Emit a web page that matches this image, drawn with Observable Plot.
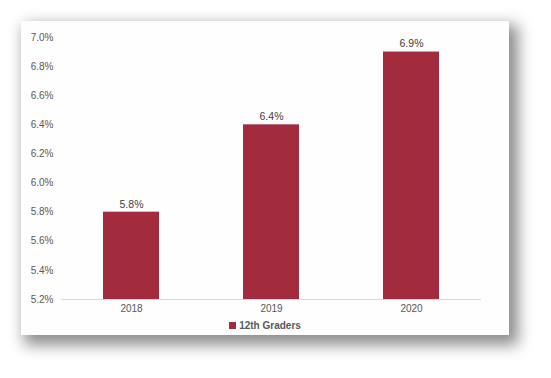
<!DOCTYPE html>
<html>
<head>
<meta charset="utf-8">
<script src="https://cdn.jsdelivr.net/npm/d3@7"></script>
<script src="https://cdn.jsdelivr.net/npm/@observablehq/plot@0.6"></script>
<style>
  html, body { margin: 0; padding: 0; background: #ffffff; }
  body { width: 551px; height: 378px; position: relative; overflow: hidden; font-family: "Liberation Sans", Arial, sans-serif; }
  #card { position: absolute; left: 21px; top: 21px; width: 488px; height: 314px; background: #fefefe;
          box-shadow: 6px 7px 14px 3px rgba(0,0,0,0.45); }
  #legend { position: absolute; left: 0; top: 296px; width: 488px; text-align: center; font-size: 10px; font-weight: bold; color: #595959; line-height: 18px; }
  #legend .sw { display: inline-block; width: 7px; height: 7px; background: #a32b3e; margin-right: 3px; vertical-align: 0px; }
</style>
</head>
<body>
<div id="card"><div id="chart"></div><div id="legend"><span class="sw"></span>12th Graders</div></div>
<script>
const years = ["2018", "2019", "2020"];
const values = [5.8, 6.4, 6.9];
const yTicks = [5.2, 5.4, 5.6, 5.8, 6.0, 6.2, 6.4, 6.6, 6.8, 7.0];
const seriesName = "12th Graders";

const data = years.map((y, i) => ({year: y, value: values[i]}));
const fmt = d => d.toFixed(1) + "%";

const chart = Plot.plot({
  width: 488,
  height: 296,
  marginLeft: 40,
  marginRight: 28,
  marginTop: 16,
  marginBottom: 18,
  style: {fontFamily: "Liberation Sans, Arial, sans-serif", fontSize: "10px", color: "#595959", background: "transparent"},
  x: {domain: years, paddingInner: 0.6, paddingOuter: 0.3, label: null},
  y: {domain: [5.2, 7.0], label: null},
  marks: [
    Plot.axisY({ticks: yTicks, tickFormat: fmt, tickSize: 0, tickPadding: 8, fontSize: 10, fill: "#595959"}),
    Plot.axisX({tickSize: 0, tickPadding: 5, fontSize: 10, fill: "#595959"}),
    Plot.barY(data, {x: "year", y1: 5.2, y2: "value", fill: "#a32b3e"}),
    Plot.ruleY([5.2], {stroke: "#d9d9d9", strokeWidth: 1}),
    Plot.text(data, {x: "year", y: "value", text: d => fmt(d.value), dy: -8, fontSize: 10.5, fill: "#404040"})
  ]
});
document.getElementById("chart").appendChild(chart);
</script>
</body>
</html>
